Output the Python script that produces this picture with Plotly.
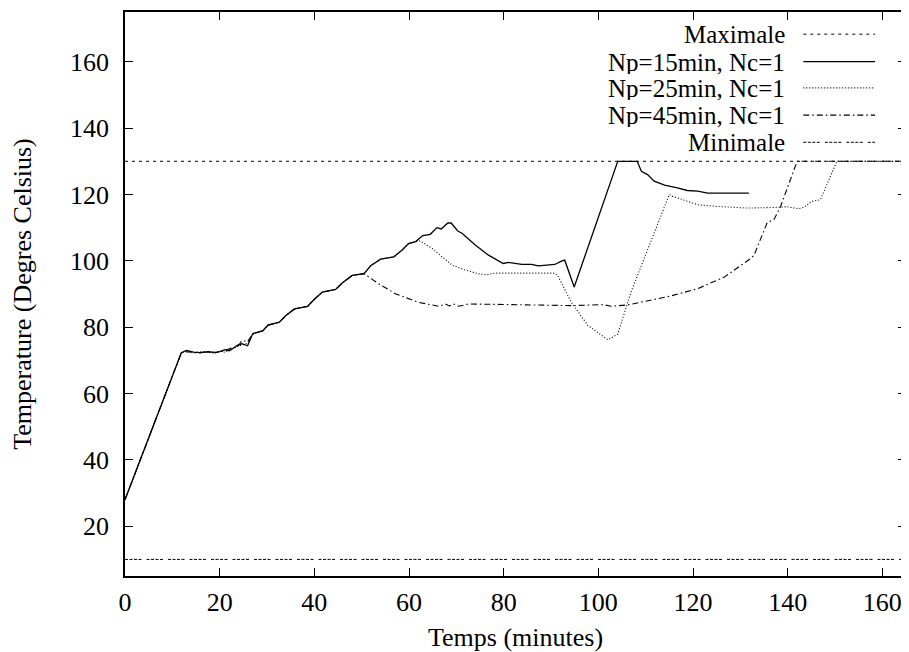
import plotly.graph_objects as go

# ---------------- data ----------------
x_max_line = [0, 165]
y_maximale = [130, 130]
y_minimale = [10, 10]

x_np15 = [0, 11.9, 13.0, 14.5, 15.8, 17.5, 19.0, 20.0, 21.2, 22.1, 23.8, 24.7, 25.9, 27.0,
          29.1, 30.2, 32.6, 34.0, 35.8, 38.6, 40.0, 41.7, 44.5, 45.9, 48.0, 50.5, 51.9,
          54.0, 56.8, 58.5, 59.9, 61.4, 62.9, 64.5, 65.9, 66.8, 68.2, 68.9, 70.3, 71.2,
          74.0, 76.8, 79.9, 81.0, 83.8, 85.9, 87.3, 90.8, 92.2, 92.9, 94.9, 104.1, 108.2,
          109.1, 110.4, 111.8, 114.0, 115.3, 116.7, 118.8, 121.0, 123.1, 131.8]
y_np15 = [28, 72.3, 73.0, 72.5, 72.3, 72.6, 72.4, 72.6, 73.2, 72.9, 74.6, 75.0, 74.4, 78.1,
          78.9, 80.6, 81.5, 83.5, 85.5, 86.3, 88.4, 90.6, 91.4, 93.3, 95.6, 96.1, 98.5,
          100.5, 101.2, 103.2, 105.2, 105.8, 107.6, 108.0, 110.0, 109.6, 111.4, 111.4, 109.0, 108.3,
          104.8, 101.7, 99.2, 99.5, 98.9, 98.9, 98.5, 98.9, 99.9, 100.2, 92.1, 130, 130,
          127.0, 126.0, 124.0, 122.8, 122.5, 122.0, 121.2, 121.0, 120.4, 120.4]

x_np25 = [0, 11.9, 13.0, 14.5, 15.8, 17.5, 19.0, 20.0, 21.2, 22.1, 23.8, 24.7, 25.9, 27.0,
          29.1, 30.2, 32.6, 34.0, 35.8, 38.6, 40.0, 41.7, 44.5, 45.9, 48.0, 50.5, 51.9,
          54.0, 56.8, 58.5, 59.9, 61.4, 62.4, 64.9, 69.1, 71.9, 74.7, 76.4, 78.2, 90.8,
          91.4, 94.3, 97.8, 102.0, 104.1, 106.9, 115.0, 115.6, 121.0, 125.2, 131.5, 137.8,
          139.9, 142.3, 143.4, 145.1, 146.9, 150.4, 165]
y_np25 = [28, 72.3, 72.8, 72.2, 72.6, 72.3, 72.2, 72.8, 72.4, 73.4, 74.2, 74.6, 75.2, 77.8,
          78.9, 80.6, 81.5, 83.5, 85.5, 86.3, 88.4, 90.6, 91.4, 93.3, 95.6, 96.1, 98.5,
          100.5, 101.2, 103.2, 105.2, 105.8, 106.0, 103.7, 98.7, 97.2, 96.1, 95.8, 96.3, 96.3,
          95.6, 87.5, 80.5, 76.2, 77.9, 90.6, 120.0, 119.5, 116.9, 116.4, 115.9, 116.1,
          116.3, 115.7, 116.1, 117.9, 118.4, 130, 130]

x_np45 = [0, 11.9, 13.0, 14.5, 15.8, 17.5, 19.0, 20.0, 21.2, 22.1, 23.8, 24.7, 25.9, 27.0,
          29.1, 30.2, 32.6, 34.0, 35.8, 38.6, 40.0, 41.7, 44.5, 45.9, 48.0, 50.5, 53.6,
          57.1, 62.0, 66.3, 67.7, 68.5, 69.4, 70.5, 72.6, 85.9, 94.3, 101.0, 102.7, 106.2,
          111.1, 115.3, 121.0, 126.6, 132.2, 132.9, 135.7, 137.1, 138.5, 142.0, 165]
y_np45 = [28, 72.3, 72.6, 72.4, 72.2, 72.7, 72.3, 72.5, 72.9, 73.6, 74.0, 76.0, 75.6, 78.0,
          78.9, 80.6, 81.5, 83.5, 85.5, 86.3, 88.4, 90.6, 91.4, 93.3, 95.6, 96.1, 93.1,
          90.1, 87.5, 86.3, 87.0, 86.4, 87.0, 86.3, 87.0, 86.7, 86.5, 86.8, 86.3, 86.7,
          88.1, 89.4, 91.6, 95.1, 100.7, 101.7, 111.6, 112.4, 116.4, 130, 130]

x_ticks = [0, 20, 40, 60, 80, 100, 120, 140, 160]
y_ticks = [20, 40, 60, 80, 100, 120, 140, 160]

legend_labels = ["Maximale", "Np=15min, Nc=1", "Np=25min, Nc=1", "Np=45min, Nc=1", "Minimale"]

# ---------------- styles ----------------
FONT = "Liberation Serif, Times New Roman, Times, serif"
FS = 26
FS_KEY = 25
dash_max = "3px,4px"
dash_min = "3px,1.5px,3px,1.5px,3px,1.5px,3px,5px"
dash_25 = "1px,2px"
dash_45 = "6px,3px,1.5px,3px"
styles = [
    dict(color="black", width=1, dash=dash_max),
    dict(color="black", width=1.3, dash="solid"),
    dict(color="black", width=1.1, dash=dash_25),
    dict(color="black", width=1.1, dash=dash_45),
    dict(color="black", width=1, dash=dash_min),
]

series = [
    (x_max_line, y_maximale),
    (x_np15, y_np15),
    (x_np25, y_np25),
    (x_np45, y_np45),
    (x_max_line, y_minimale),
]

fig = go.Figure()
for (xs, ys), st, name in zip(series, styles, legend_labels):
    fig.add_trace(go.Scatter(x=xs, y=ys, mode="lines", line=st, name=name,
                             showlegend=False, hoverinfo="skip"))

# gnuplot-style key: right-aligned text with the line sample on its right
key_y = [0.9607, 0.9119, 0.8655, 0.8172, 0.769]
for lab, st, ky in zip(legend_labels, styles, key_y):
    fig.add_annotation(xref="paper", yref="paper", x=0.8467, y=ky, text=lab,
                       showarrow=False, xanchor="right", yanchor="middle",
                       height=24, borderpad=0, valign="middle",
                       font=dict(family=FONT, size=FS_KEY, color="black"))
    fig.add_shape(type="line", xref="paper", yref="paper", x0=0.8685, x1=0.9604,
                  y0=ky, y1=ky, line=st)

axis_common = dict(showgrid=False, zeroline=False, showline=True, linecolor="black",
                   linewidth=1.5, mirror="allticks", ticks="inside", ticklen=8,
                   tickwidth=1, tickcolor="black",
                   tickfont=dict(family=FONT, size=FS, color="black"))

fig.update_xaxes(range=[0, 165], tickvals=x_ticks, ticktext=[str(v) for v in x_ticks],
                 ticklabelstandoff=2,
                 title=dict(text="Temps (minutes)", font=dict(family=FONT, size=FS, color="black"),
                            standoff=16),
                 **axis_common)
fig.update_yaxes(range=[5, 175], tickvals=y_ticks, ticktext=[str(v) for v in y_ticks],
                 ticklabelstandoff=9,
                 title=dict(text="Temperature (Degres Celsius)",
                            font=dict(family=FONT, size=FS, color="black"), standoff=38),
                 **axis_common)

# the page body has an 8px margin, so the figure is placed 8px in from the top-left
fig.update_layout(width=901, height=644, margin=dict(l=117, r=1, t=4, b=72, pad=0),
                  plot_bgcolor="white", paper_bgcolor="white", showlegend=False)

fig.write_html("out.html")
